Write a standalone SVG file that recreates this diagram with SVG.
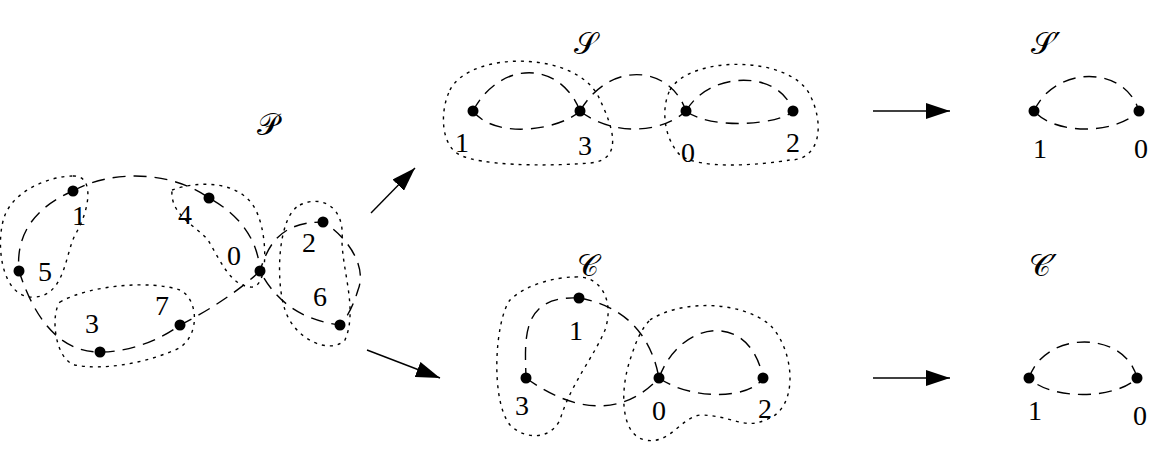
<svg xmlns="http://www.w3.org/2000/svg" width="1151" height="451" viewBox="0 0 1151 451">
<style>
.d{fill:none;stroke:#000;stroke-width:1.4;stroke-dasharray:13,8}
.o{fill:none;stroke:#000;stroke-width:1.4;stroke-dasharray:3,5}
.a{fill:none;stroke:#000;stroke-width:1.4}
circle{fill:#000}
text{font-family:"Liberation Serif","DejaVu Serif",serif;font-size:28px;text-anchor:middle;fill:#000}
.t{font-family:"DejaVu Serif","DejaVu Sans",serif;font-size:30px}
</style>
<defs><marker id="ah2" viewBox="0 0 10 10" refX="10" refY="5" markerWidth="24" markerHeight="16" markerUnits="userSpaceOnUse" orient="auto" preserveAspectRatio="none"><path d="M0,0 L10,5 L0,10 z"/></marker></defs>
<rect width="1151" height="451" fill="#fff"/>
<g id="connectors">
<path class="d" d="M73,191 C110,170 170,170 209,198 C240,215 258,240 260,271 C268,245 280,222 323,222 C345,235 368,265 358,290 C352,310 345,320 340,325 C300,320 275,300 260,271 C240,290 210,310 180,325 C160,340 130,352 100,352 C60,352 35,320 19,271 C15,230 40,205 73,191"/>
<path class="a" d="M371,213 L415,168" marker-end="url(#ah2)"/>
<path class="a" d="M367,350 L440,378" marker-end="url(#ah2)"/>
<path class="a" d="M873,111 L950,111" marker-end="url(#ah2)"/>
<path class="a" d="M873,378 L950,378" marker-end="url(#ah2)"/>
</g>
<g id="P">
<text class="t" x="268" y="135">𝒫</text>
<path class="o" d="M73,176 C95,175 90,210 75,235 C65,255 65,295 35,297 C0,300 -5,240 5,215 C15,190 50,176 73,176 Z"/>
<path class="o" d="M60,302 C90,285 150,280 180,290 C200,300 200,340 175,350 C140,365 100,370 75,365 C55,360 50,315 60,302 Z"/>
<path class="o" d="M172,190 C200,180 245,180 258,215 C268,240 268,290 250,287 C230,285 220,260 208,240 C195,225 170,215 172,190 Z"/>
<path class="o" d="M300,205 C320,195 345,205 342,240 C342,270 358,310 345,340 C330,355 295,340 285,310 C275,280 278,215 300,205 Z"/>
<circle cx="73" cy="191" r="5.5"/><text x="79" y="225">1</text>
<circle cx="19" cy="271" r="5.5"/><text x="45" y="281">5</text>
<circle cx="100" cy="352" r="5.5"/><text x="92" y="333">3</text>
<circle cx="180" cy="325" r="5.5"/><text x="162" y="315">7</text>
<circle cx="209" cy="198" r="5.5"/><text x="185" y="224">4</text>
<circle cx="260" cy="271" r="5.5"/><text x="234" y="265">0</text>
<circle cx="323" cy="222" r="5.5"/><text x="309" y="252">2</text>
<circle cx="340" cy="325" r="5.5"/><text x="320" y="306">6</text>
</g>
<g id="S">
<text class="t" x="585" y="54">𝒮</text>
<path class="d" d="M473,111 C500,60 560,60 580,111 M473,111 C495,140 560,130 580,111 M580,111 C610,60 670,65 686,111 M580,111 C610,135 660,135 686,111 M686,111 C710,70 780,70 793,111 M686,111 C710,130 780,125 793,111"/>
<path class="o" d="M450,90 C470,50 580,50 600,100 C612,125 625,160 590,163 C540,167 480,165 460,155 C440,145 440,110 450,90 Z"/>
<path class="o" d="M670,90 C690,55 790,55 810,95 C825,125 820,160 790,160 C760,165 700,170 680,155 C665,140 660,110 670,90 Z"/>
<circle cx="473" cy="111" r="5.5"/><text x="462" y="152">1</text>
<circle cx="580" cy="111" r="5.5"/><text x="585" y="155">3</text>
<circle cx="686" cy="111" r="5.5"/><text x="688" y="162">0</text>
<circle cx="793" cy="111" r="5.5"/><text x="793" y="152">2</text>
</g>
<g id="Sp">
<text class="t" x="1046" y="54">𝒮<tspan font-family="DejaVu Sans">′</tspan></text>
<path class="d" d="M1034,111 C1055,65 1125,65 1139,111 C1115,135 1055,135 1034,111"/>
<circle cx="1034" cy="111" r="5.5"/><text x="1040" y="158">1</text>
<circle cx="1139" cy="111" r="5.5"/><text x="1141" y="158">0</text>
</g>
<g id="C">
<text class="t" x="588" y="276">𝒞</text>
<path class="d" d="M579,298 C520,295 525,340 526,378 M579,298 C620,305 650,330 659,378 M526,378 C570,410 620,420 659,378 M659,378 C680,320 750,310 763,378 M659,378 C690,400 750,400 763,378"/>
<path class="o" d="M575,277 C600,275 615,300 605,330 C595,355 570,385 560,420 C550,440 525,440 510,425 C490,400 495,320 510,300 C525,285 555,277 575,277 Z"/>
<path class="o" d="M650,320 C680,300 740,300 770,325 C795,350 800,410 765,420 C745,430 730,415 700,415 C680,418 670,445 645,440 C620,435 620,390 630,360 C635,345 640,330 650,320 Z"/>
<circle cx="579" cy="298" r="5.5"/><text x="576" y="340">1</text>
<circle cx="526" cy="378" r="5.5"/><text x="522" y="415">3</text>
<circle cx="659" cy="378" r="5.5"/><text x="659" y="420">0</text>
<circle cx="763" cy="378" r="5.5"/><text x="765" y="418">2</text>
</g>
<g id="Cp">
<text class="t" x="1043" y="276">𝒞<tspan font-family="DejaVu Sans">′</tspan></text>
<path class="d" d="M1029,378 C1045,330 1125,330 1137,378 C1115,400 1050,400 1029,378"/>
<circle cx="1029" cy="378" r="5.5"/><text x="1035" y="420">1</text>
<circle cx="1137" cy="378" r="5.5"/><text x="1140" y="425">0</text>
</g>
</svg>
